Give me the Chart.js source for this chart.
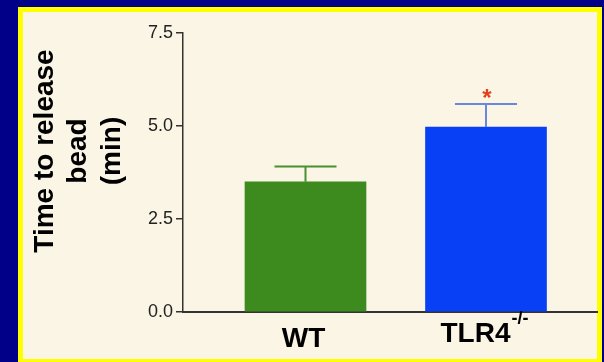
<!DOCTYPE html>
<html>
<head>
<meta charset="utf-8">
<script src="https://cdn.jsdelivr.net/npm/chart.js@4.4.0/dist/chart.umd.min.js"></script>
<style>
  html, body { margin: 0; padding: 0; background: #000088; overflow: hidden; }
  #frame {
    position: absolute; left: 18px; top: 7px;
    width: 584px; height: 357px; box-sizing: border-box;
    border: 5px solid #ffff00; background: #fbf5e6;
  }
  #chart { position: absolute; left: 0; top: 0; }
</style>
</head>
<body>
<div id="frame"></div>
<canvas id="chart" width="604" height="362"></canvas>
<script>
// Podatki
const categories = ["WT", "TLR4"];
const superscripts = ["", "-/-"];
const values = [3.5, 4.97];
const errors = [0.41, 0.62];
const significant = [false, true];
const yTickValues = [0, 2.5, 5, 7.5];
const yTitleLines = ["Time to release", "bead", "(min)"];

const barColors = ["#3d8a1f", "#0840f6"];
const errColors = ["#4a9030", "#6a86e0"];
const FONT = "'Liberation Sans', Arial, sans-serif";

// Error bars, zvezdica in oznake kategorij
const extras = {
  id: "extras",
  afterDatasetsDraw(chart) {
    const { ctx, scales: { x, y } } = chart;
    ctx.save();
    values.forEach((v, i) => {
      const px = x.getPixelForValue(i + 1);
      const base = y.getPixelForValue(v);
      const top = y.getPixelForValue(v + errors[i]);
      ctx.strokeStyle = errColors[i];
      ctx.lineWidth = 2;
      ctx.beginPath();
      ctx.moveTo(px, base);
      ctx.lineTo(px, top);
      ctx.moveTo(px - 31, top);
      ctx.lineTo(px + 31, top);
      ctx.stroke();
      if (significant[i]) {
        ctx.fillStyle = "#e4401c";
        ctx.font = "bold 24px " + FONT;
        ctx.textAlign = "center";
        ctx.textBaseline = "alphabetic";
        ctx.fillText("*", px + 1, top + 2);
      }
    });
    ctx.restore();
  },
  afterDraw(chart) {
    const { ctx, scales: { x } } = chart;
    ctx.save();
    ctx.fillStyle = "#000";
    ctx.textBaseline = "alphabetic";
    ctx.textAlign = "left";
    categories.forEach((c, i) => {
      const px = x.getPixelForValue(i + 1);
      ctx.font = "bold 28px " + FONT;
      const w1 = ctx.measureText(c).width;
      ctx.font = "bold 18px " + FONT;
      const w2 = superscripts[i] ? ctx.measureText(superscripts[i]).width : 0;
      const start = px - (w1 + w2) / 2 - 2;
      const baseY = superscripts[i] ? 342 : 347;
      ctx.font = "bold 28px " + FONT;
      ctx.fillText(c, start, baseY);
      if (superscripts[i]) {
        ctx.font = "bold 18px " + FONT;
        ctx.fillText(superscripts[i], start + w1 + 1, baseY - 18);
      }
    });
    // naslov osi y
    ctx.font = "bold 28px " + FONT;
    ctx.textAlign = "center";
    const baselines = [53, 86, 120];
    yTitleLines.forEach((t, i) => {
      ctx.save();
      ctx.translate(baselines[i], 151);
      ctx.rotate(-Math.PI / 2);
      ctx.fillText(t, 0, 0);
      ctx.restore();
    });
    ctx.restore();
  }
};

new Chart(document.getElementById("chart"), {
  type: "bar",
  data: {
    datasets: [{
      data: values.map((v, i) => ({ x: i + 1, y: v })),
      backgroundColor: barColors,
      borderWidth: 0,
      barThickness: 121
    }]
  },
  options: {
    responsive: false,
    animation: false,
    layout: { padding: { left: 123, right: 7, top: 33, bottom: 10 } },
    plugins: { legend: { display: false }, tooltip: { enabled: false } },
    scales: {
      x: {
        type: "linear",
        offset: false,
        min: 0.3213,
        max: 2.615,
        ticks: { display: false },
        grid: { display: false },
        border: { display: true, color: "#333", width: 2 },
        afterFit: (s) => { s.height = 40; }
      },
      y: {
        min: 0,
        max: 7.5,
        afterBuildTicks: (s) => { s.ticks = yTickValues.map(v => ({ value: v })); },
        ticks: {
          callback: (v) => Number(v).toFixed(1),
          color: "#222",
          padding: 3,
          font: { size: 18, family: FONT }
        },
        grid: { drawOnChartArea: false, tickLength: 7, color: "#333", lineWidth: 1.5 },
        border: { color: "#333", width: 1.5 },
        afterFit: (s) => { s.width = 60; }
      }
    }
  },
  plugins: [extras]
});
</script>
</body>
</html>
